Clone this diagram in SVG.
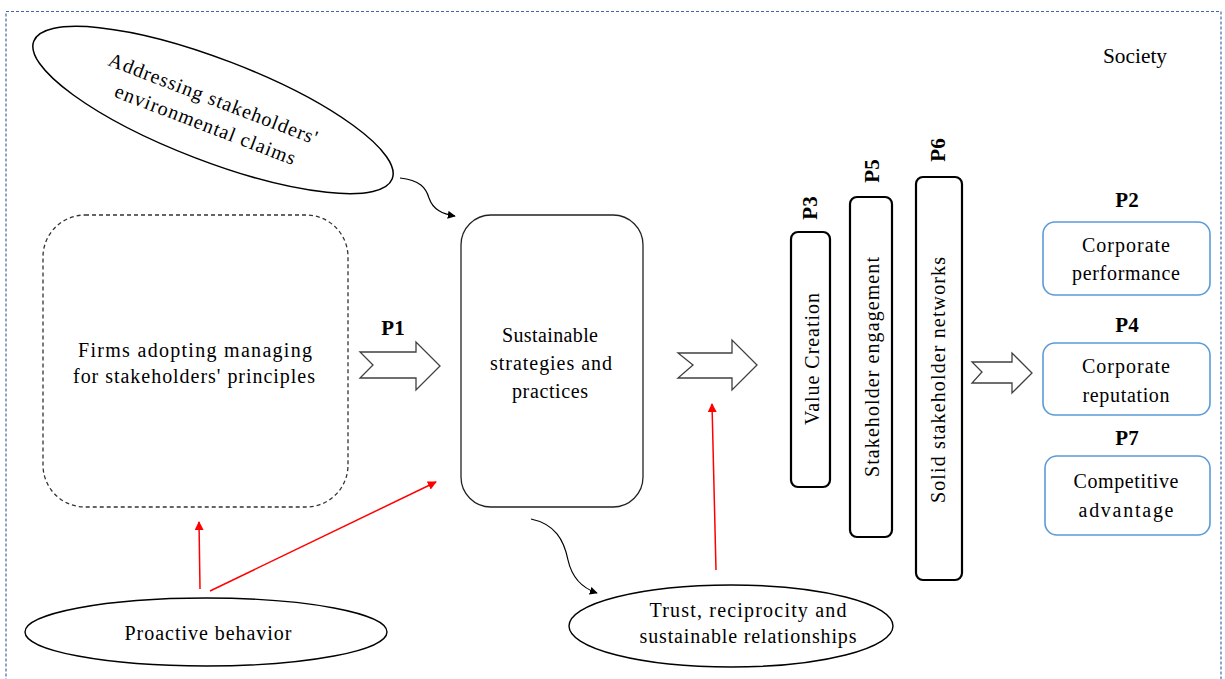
<svg xmlns="http://www.w3.org/2000/svg" width="1225" height="679" viewBox="0 0 1225 679" font-family="'Liberation Serif', Tinos, serif">
<defs>
<marker id="ab" viewBox="0 0 10 10" refX="9" refY="5" markerWidth="8" markerHeight="8" markerUnits="userSpaceOnUse" orient="auto"><path d="M0,0 L10,5 L0,10 z" fill="#000"/></marker>
<marker id="ar" viewBox="0 0 10 10" refX="9" refY="5" markerWidth="9" markerHeight="9" markerUnits="userSpaceOnUse" orient="auto"><path d="M0,0 L10,5 L0,10 z" fill="#ff0000"/></marker>
</defs>
<style>
text{font-family:'Liberation Serif',Tinos,serif;font-size:20px;fill:#000}
.c{text-anchor:middle}
.b{font-weight:bold;font-size:21px}
.blk{fill:#fff;stroke:#404040;stroke-width:1.3}
.bar{fill:#fff;stroke:#000;stroke-width:2.2}
.blue{fill:#fff;stroke:#5b9bd5;stroke-width:1.6}
.red{fill:none;stroke:#ff0000;stroke-width:1.5}
.blkc{fill:none;stroke:#000;stroke-width:1.2}
</style>
<rect width="1225" height="679" fill="#fff"/>
<rect x="6" y="11.5" width="1215" height="700" fill="none" stroke="#3f67ad" stroke-width="1.2" stroke-dasharray="3 2"/>
<text x="1135" y="63" class="c" textLength="64" lengthAdjust="spacingAndGlyphs">Society</text>

<g id="addressing">
<ellipse cx="213" cy="110" rx="192" ry="51" transform="rotate(21 213 110)" fill="#fff" stroke="#000" stroke-width="1.5"/>
<g transform="rotate(21 213 110)">
<text x="209" y="106" class="c" textLength="222" lengthAdjust="spacing">Addressing stakeholders'</text>
<text x="211" y="133" class="c" textLength="192" lengthAdjust="spacing">environmental claims</text>
</g>
</g>

<g id="firms">
<rect x="43" y="215" width="305" height="292" rx="42" fill="#fff" stroke="#333" stroke-width="1.3" stroke-dasharray="4 3"/>
<text x="195" y="357" class="c" textLength="234" lengthAdjust="spacing">Firms adopting managing</text>
<text x="194" y="383" class="c" textLength="242" lengthAdjust="spacing">for stakeholders' principles</text>
</g>

<g id="p1">
<text x="393" y="335" class="c b">P1</text>
<polygon class="blk" points="360,352 416,352 416,342 440,366 416,390 416,378 360,378 373,365"/>
</g>

<g id="sustainable">
<rect x="461" y="215" width="182" height="292" rx="30" fill="#fff" stroke="#222" stroke-width="1.3"/>
<text x="550" y="342" class="c" textLength="96" lengthAdjust="spacing">Sustainable</text>
<text x="551" y="370" class="c" textLength="122" lengthAdjust="spacing">strategies and</text>
<text x="550" y="398" class="c" textLength="76" lengthAdjust="spacing">practices</text>
</g>

<g id="arrow2">
<polygon class="blk" points="678,353 732,353 732,340 757,365 732,390 732,378 678,378 693,365"/>
</g>

<g id="value">
<rect class="bar" x="791" y="232" width="39" height="255" rx="7"/>
<text transform="rotate(-90 812 359)" x="812" y="366" class="c" textLength="132" lengthAdjust="spacing">Value Creation</text>
<text transform="rotate(-90 810 208)" x="810" y="215" class="c b">P3</text>
</g>

<g id="engagement">
<rect class="bar" x="850" y="197" width="42" height="340" rx="7"/>
<text transform="rotate(-90 872 367)" x="872" y="374" class="c" textLength="220" lengthAdjust="spacing">Stakeholder engagement</text>
<text transform="rotate(-90 872 171)" x="872" y="178" class="c b">P5</text>
</g>

<g id="networks">
<rect class="bar" x="916" y="177" width="46" height="403" rx="7"/>
<text transform="rotate(-90 938 380)" x="938" y="387" class="c" textLength="246" lengthAdjust="spacing">Solid stakeholder networks</text>
<text transform="rotate(-90 938 150)" x="938" y="157" class="c b">P6</text>
</g>

<g id="arrow3">
<polygon class="blk" points="972,362 1012,362 1012,353 1032,373 1012,393 1012,383 972,383 982,372"/>
</g>

<g id="performance">
<text x="1127" y="207" class="c b">P2</text>
<rect class="blue" x="1043" y="222" width="167" height="73" rx="12"/>
<text x="1126" y="252" class="c" textLength="88" lengthAdjust="spacing">Corporate</text>
<text x="1126" y="280" class="c" textLength="108" lengthAdjust="spacing">performance</text>
</g>

<g id="reputation">
<text x="1127" y="332" class="c b">P4</text>
<rect class="blue" x="1043" y="343" width="167" height="72" rx="12"/>
<text x="1126" y="373" class="c" textLength="88" lengthAdjust="spacing">Corporate</text>
<text x="1126" y="402" class="c" textLength="87" lengthAdjust="spacing">reputation</text>
</g>

<g id="advantage">
<text x="1127" y="445" class="c b">P7</text>
<rect class="blue" x="1045" y="456" width="165" height="79" rx="12"/>
<text x="1126" y="488" class="c" textLength="105" lengthAdjust="spacing">Competitive</text>
<text x="1126" y="517" class="c" textLength="95" lengthAdjust="spacing">advantage</text>
</g>

<g id="proactive">
<ellipse cx="206" cy="632" rx="181" ry="34" fill="#fff" stroke="#000" stroke-width="1.4"/>
<text x="208" y="640" class="c" textLength="167" lengthAdjust="spacing">Proactive behavior</text>
</g>

<g id="trust">
<ellipse cx="731" cy="626" rx="162" ry="41" fill="#fff" stroke="#000" stroke-width="1.4"/>
<text x="748" y="617" class="c" textLength="197" lengthAdjust="spacing">Trust, reciprocity and</text>
<text x="748" y="643" class="c" textLength="217" lengthAdjust="spacing">sustainable relationships</text>
</g>

<g id="connectors">
<path class="blkc" d="M400,178 C420,180 426,188 429,198 C433,210 443,214 455,216" marker-end="url(#ab)"/>
<path class="blkc" d="M531,519 C555,524 564,540 568,560 C572,578 582,588 597,593" marker-end="url(#ab)"/>
<path class="red" d="M200,589 L199,522" marker-end="url(#ar)"/>
<path class="red" d="M210,591 L436,482" marker-end="url(#ar)"/>
<path class="red" d="M716,570 L712,404" marker-end="url(#ar)"/>
</g>
</svg>
